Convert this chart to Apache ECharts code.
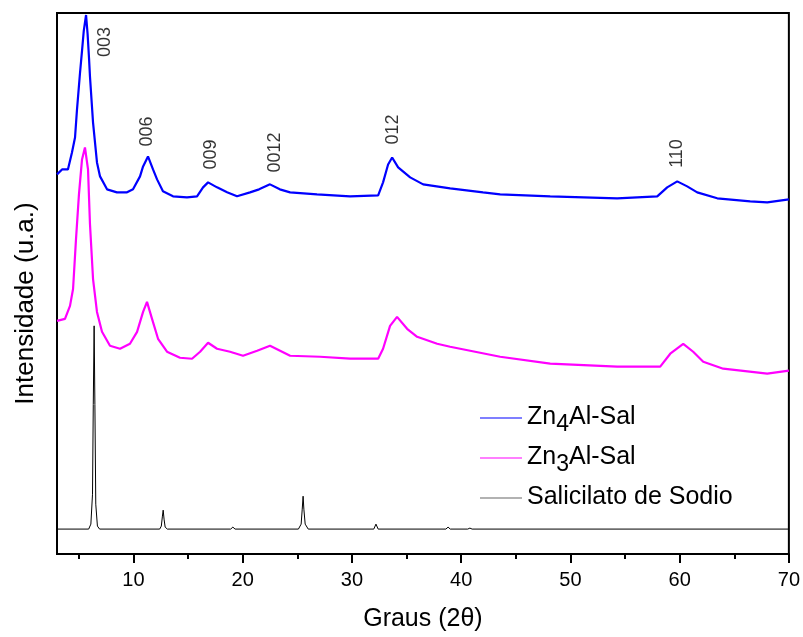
<!DOCTYPE html>
<html>
<head>
<meta charset="utf-8">
<script src="https://cdn.jsdelivr.net/npm/echarts@6/dist/echarts.min.js"></script>
<style>
  html, body { margin: 0; padding: 0; background: #fff; }
  #chart { width: 803px; height: 637px; }
</style>
</head>
<body>
<div id="chart"></div>
<script>
// XRD patterns: 2θ (degrees) and intensity (arbitrary units, offset stacks)
const zn4Theta = [3.0, 3.46, 4.0, 4.37, 4.65, 4.83, 5.1, 5.29, 5.45, 5.66, 5.8, 5.93, 6.02, 6.3, 6.66, 6.94, 7.58, 8.49, 9.41, 9.96, 10.6, 10.88, 11.33, 11.79, 12.16, 12.7, 13.62, 14.9, 15.82, 16.37, 16.83, 17.65, 18.57, 19.48, 20.67, 21.5, 22.5, 23.4, 24.34, 26.8, 29.83, 32.4, 32.85, 33.31, 33.68, 34.23, 35.33, 36.52, 38.99, 42.0, 43.57, 45.86, 48.15, 54.28, 57.95, 58.86, 59.78, 60.69, 61.61, 63.44, 66.46, 68.02, 70.0];
const zn4Int   = [381, 386, 386, 403, 418, 446, 482, 505, 525, 541, 522, 498, 479, 433, 393, 379, 366, 363, 363, 366, 379, 389, 399, 386, 376, 364, 359, 358, 359, 368, 373, 368, 363, 359, 363, 366, 371, 366, 363, 361, 359, 360, 373, 391, 398, 388, 378, 371, 367, 363, 361, 360, 359, 357, 359, 368, 374, 369, 363, 357, 354, 353, 356];

const zn3Theta = [3.0, 3.73, 4.19, 4.47, 4.74, 5.01, 5.29, 5.56, 5.84, 6.02, 6.3, 6.66, 7.12, 7.85, 8.77, 9.68, 10.33, 10.88, 11.24, 11.7, 12.25, 13.07, 14.26, 15.36, 16.1, 16.83, 17.65, 18.84, 20.03, 21.32, 22.5, 23.42, 24.34, 27.08, 29.83, 32.4, 32.85, 33.49, 34.13, 35.05, 35.97, 37.8, 38.99, 43.57, 48.15, 54.28, 58.22, 59.14, 60.33, 61.24, 62.16, 63.99, 68.02, 70.0];
const zn3Int   = [234, 236, 249, 266, 316, 361, 396, 408, 386, 331, 276, 243, 223, 209, 206, 211, 223, 243, 253, 236, 216, 203, 197, 196, 203, 212, 206, 203, 199, 204, 209, 204, 199, 198, 196, 196, 206, 229, 238, 226, 218, 211, 208, 198, 191, 188, 188, 201, 211, 203, 193, 186, 181, 184];

const salTheta = [3.0, 5.9, 6.1, 6.25, 6.32, 6.4, 6.47, 6.55, 6.7, 6.9, 12.4, 12.55, 12.65, 12.72, 12.8, 12.9, 13.1, 18.9, 19.1, 19.3, 25.1, 25.35, 25.45, 25.53, 25.6, 25.72, 26.0, 32.0, 32.2, 32.4, 38.6, 38.8, 39.0, 40.6, 40.8, 41.0, 70.0];
const salInt   = [25, 25, 30, 60, 150, 229, 150, 50, 28, 25, 25, 28, 38, 44, 35, 27, 25, 25, 27, 25, 25, 30, 45, 58, 45, 30, 25, 25, 30, 25, 25, 27, 25, 25, 26, 25, 25];

// Reflection (hkl) annotations and their anchor points
const peakNames = ['003', '006', '009', '0012', '012', '110'];
const peakTheta = [7.40, 11.24, 17.10, 22.96, 33.77, 59.78];
const peakInt   = [514, 424, 401, 403, 426, 402];

const majorTicks = [10, 20, 30, 40, 50, 60, 70];
const minorTicks = [5, 15, 25, 35, 45, 55, 65];

const seriesNames = ['Zn4Al-Sal', 'Zn3Al-Sal', 'Salicilato de Sodio'];

const pairs = (xs, ys) => xs.map((x, i) => [x, ys[i]]);

const chart = echarts.init(document.getElementById('chart'), null, { renderer: 'canvas' });

const font = 'Liberation Sans, Arial, sans-serif';

const option = {
  animation: false,
  backgroundColor: '#fff',
  grid: {
    left: 57, right: 14, top: 13, bottom: 81,
    show: true, borderColor: '#000', borderWidth: 2, backgroundColor: 'transparent'
  },
  xAxis: [
    {
      type: 'value', min: 3, max: 70, position: 'bottom',
      axisLine: { show: true, lineStyle: { color: '#000', width: 2 } },
      axisTick: { show: true, customValues: majorTicks, length: 9, lineStyle: { color: '#000', width: 2 } },
      axisLabel: { show: true, customValues: majorTicks, color: '#000', fontSize: 20, fontFamily: font, margin: 16 },
      splitLine: { show: false },
      name: 'Graus (2θ)', nameLocation: 'middle', nameGap: 53,
      nameTextStyle: { color: '#000', fontSize: 25, fontFamily: font }
    },
    {
      type: 'value', min: 3, max: 70, position: 'bottom',
      axisLine: { show: false },
      axisTick: { show: true, customValues: minorTicks, length: 5, lineStyle: { color: '#000', width: 2 } },
      axisLabel: { show: false },
      splitLine: { show: false }
    }
  ],
  yAxis: {
    type: 'value', min: 0, max: 543,
    axisLine: { show: false }, axisTick: { show: false }, axisLabel: { show: false },
    splitLine: { show: false },
    name: 'Intensidade (u.a.)', nameLocation: 'middle', nameGap: 18,
    nameTextStyle: { color: '#000', fontSize: 26, fontFamily: font, padding: [0, 40, 0, 0] }
  },
  legend: {
    orient: 'vertical', left: 475, top: 400,
    itemWidth: 42, itemHeight: 1, itemGap: 9,
    icon: 'rect',
    data: [
      { name: seriesNames[0], itemStyle: { color: '#0000ff' } },
      { name: seriesNames[1], itemStyle: { color: '#ff00ff' } },
      { name: seriesNames[2], itemStyle: { color: '#666' } }
    ],
    formatter: function (name) {
      if (name === seriesNames[0]) return '{m|Zn}{s|4}{m|Al-Sal}';
      if (name === seriesNames[1]) return '{m|Zn}{s|3}{m|Al-Sal}';
      return '{p|' + name + '}';
    },
    textStyle: {
      color: '#000', fontFamily: font, fontSize: 25,
      rich: {
        m: { fontSize: 25, lineHeight: 26, verticalAlign: 'top', fontFamily: font, color: '#000' },
        s: { fontSize: 23, lineHeight: 26, verticalAlign: 'top', padding: [8, 0, 0, 0], fontFamily: font, color: '#000' },
        p: { fontSize: 25, lineHeight: 26, verticalAlign: 'top', padding: [0, 0, 8, 0], fontFamily: font, color: '#000' }
      }
    }
  },
  series: [
    {
      name: seriesNames[0], type: 'line', xAxisIndex: 0, data: pairs(zn4Theta, zn4Int),
      symbol: 'none', showSymbol: false, z: 4,
      lineStyle: { color: '#0000ff', width: 2.2 }, itemStyle: { color: '#0000ff' }
    },
    {
      name: seriesNames[1], type: 'line', xAxisIndex: 0, data: pairs(zn3Theta, zn3Int),
      symbol: 'none', showSymbol: false, z: 3,
      lineStyle: { color: '#ff00ff', width: 2.2 }, itemStyle: { color: '#ff00ff' }
    },
    {
      name: seriesNames[2], type: 'line', xAxisIndex: 0, data: pairs(salTheta, salInt),
      symbol: 'none', showSymbol: false, z: 2,
      lineStyle: { color: '#000', width: 1 }, itemStyle: { color: '#000' }
    },
    {
      name: 'hkl', type: 'scatter', xAxisIndex: 0, symbolSize: 0, z: 5,
      data: peakNames.map((n, i) => ({ name: n, value: [peakTheta[i], peakInt[i]] })),
      label: {
        show: true, position: 'inside', rotate: 90, formatter: '{b}',
        color: '#000', fontSize: 18, fontFamily: font
      },
      tooltip: { show: false }
    }
  ]
};

chart.setOption(option);
</script>
</body>
</html>
